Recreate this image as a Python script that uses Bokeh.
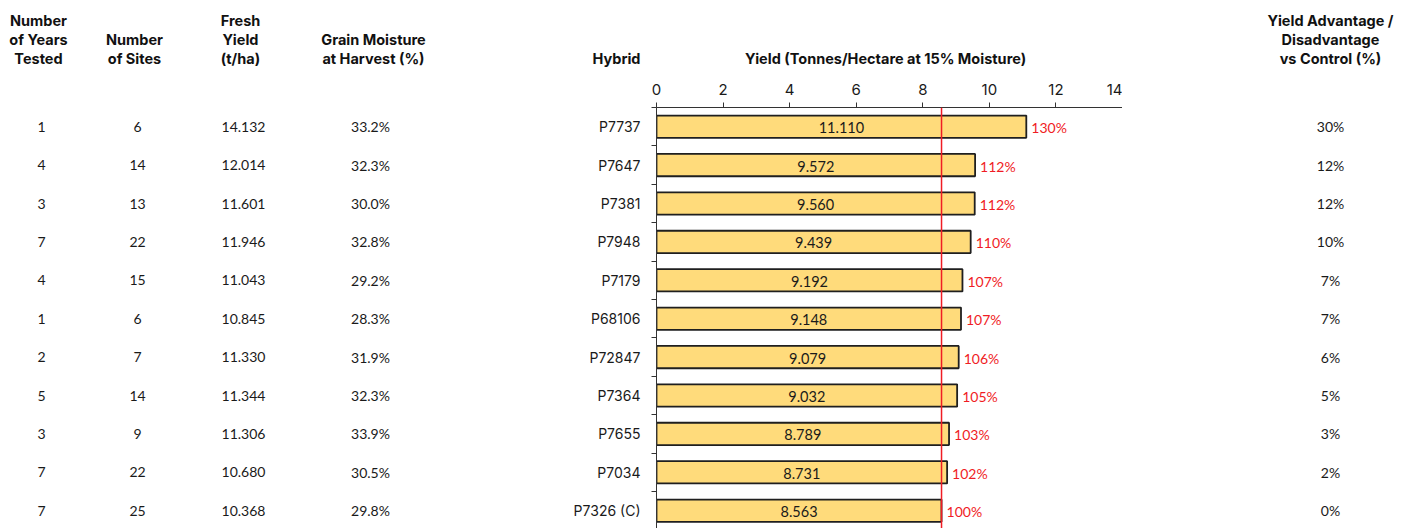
from bokeh.plotting import figure
from bokeh.models import ColumnDataSource, Range1d, FixedTicker, Span
from bokeh.layouts import column, row
from bokeh.core.properties import value
from bokeh.embed import file_html
from bokeh.resources import INLINE

hybrids = ["P7737", "P7647", "P7381", "P7948", "P7179", "P68106", "P72847",
           "P7364", "P7655", "P7034", "P7326 (C)"]
yield_t = [11.110, 9.572, 9.560, 9.439, 9.192, 9.148, 9.079, 9.032, 8.789, 8.731, 8.563]
pct_of_control = ["130%", "112%", "112%", "110%", "107%", "107%", "106%", "105%", "103%", "102%", "100%"]
years = ["1", "4", "3", "7", "4", "1", "2", "5", "3", "7", "7"]
sites = ["6", "14", "13", "22", "15", "6", "7", "14", "9", "22", "25"]
fresh_yield = ["14.132", "12.014", "11.601", "11.946", "11.043", "10.845", "11.330",
               "11.344", "11.306", "10.680", "10.368"]
moisture = ["33.2%", "32.3%", "30.0%", "32.8%", "29.2%", "28.3%", "31.9%", "32.3%",
            "33.9%", "30.5%", "29.8%"]
advantage = ["30%", "12%", "12%", "10%", "7%", "7%", "6%", "5%", "3%", "2%", "0%"]
control_value = 8.563
x_ticks = [0, 2, 4, 6, 8, 10, 12, 14]

# header texts (lines) and their column centres
header_lines = [
    (["Number", "of Years", "Tested"], 38),
    (["Number", "of Sites"], 134),
    (["Fresh", "Yield", "(t/ha)"], 240),
    (["Grain Moisture", "at Harvest (%)"], 373),
    (["Hybrid"], 616),
    (["Yield (Tonnes/Hectare at 15% Moisture)"], 885),
    (["Yield Advantage /", "Disadvantage", "vs Control (%)"], 1330),
]

BODY_FONT = value("Lato")
HEAD_FONT = value("Inter")
TXT = "#1a1a1a"
RED = "#f01c24"
AX = "#333333"

n = len(hybrids)
rows = list(range(n))
src = ColumnDataSource(dict(
    y=rows, val=yield_t, half=[v / 2 for v in yield_t],
    val_lbl=["%.3f" % v for v in yield_t], pct=pct_of_control,
    years=years, sites=sites, fresh=fresh_yield, moist=moisture, adv=advantage,
))

TOTAL_W = 1400
HEAD_H = 68
BODY_H = 460
TOP_B = 39          # frame top at 68 + 39 = 107
ROW_PX = 38.4
y_top = -0.5
y_bottom = y_top + (BODY_H - TOP_B) / ROW_PX


def blank(width, height, xr, yr, top=0):
    f = figure(width=width, height=height, output_backend="svg", toolbar_location=None,
               x_range=xr, y_range=yr, x_axis_location=None, y_axis_location=None,
               min_border_left=0, min_border_right=0, min_border_top=top,
               min_border_bottom=0)
    f.outline_line_color = None
    f.xgrid.visible = False
    f.ygrid.visible = False
    f.border_fill_color = "white"
    f.background_fill_color = "white"
    return f


# ---- header strip ----
hx, hy, ht = [], [], []
line_pos = [57.5, 38.5, 19.5]
for lines, cx in header_lines:
    ys = line_pos[:len(lines)][::-1]
    for t, yy in zip(lines, ys):
        hx.append(cx)
        hy.append(yy)
        ht.append(t)
head = blank(TOTAL_W, HEAD_H, Range1d(0, TOTAL_W), Range1d(HEAD_H, 0))
head.text(x=hx, y=hy, text=ht, text_align="center", text_baseline="middle",
          text_font=HEAD_FONT, text_font_style="bold", text_font_size="14.5px",
          text_color="#111111")

# ---- left table ----
LEFT_W = 540
left = blank(LEFT_W, BODY_H, Range1d(0, LEFT_W), Range1d(y_bottom, y_top), top=TOP_B)
for field, cx in [("years", 41), ("sites", 137), ("fresh", 243), ("moist", 370)]:
    left.text(x=cx, y="y", text=field, source=src, text_align="center",
              text_baseline="middle", text_font=BODY_FONT, text_font_size="14px",
              text_color=TXT)

# ---- chart ----
FRAME_L, FRAME_R = 656, 1122
p = figure(width=FRAME_R - LEFT_W, height=BODY_H, output_backend="svg", toolbar_location=None,
           x_range=Range1d(0, 14), y_range=Range1d(y_bottom, y_top),
           x_axis_location="above", min_border_left=FRAME_L - LEFT_W, min_border_right=0,
           min_border_top=TOP_B, min_border_bottom=0)
p.outline_line_color = None
p.xgrid.visible = False
p.ygrid.visible = False
p.border_fill_color = "white"

p.hbar(y="y", right="val", left=0, height=0.58, source=src,
       fill_color="#FFDB7B", line_color="#1f1f1f", line_width=1.8)
p.add_layout(Span(location=control_value, dimension="height", line_color=RED,
                  line_width=1.5, level="overlay"))
p.add_layout(Span(location=14, dimension="height", line_color=AX, line_width=1))

xa = p.xaxis[0]
xa.ticker = FixedTicker(ticks=x_ticks)
xa.axis_line_color = AX
xa.major_tick_line_color = AX
xa.major_tick_out = 5
xa.major_tick_in = 0
xa.minor_tick_line_color = None
xa.major_label_text_font = "Inter"
xa.major_label_text_font_size = "15px"
xa.major_label_text_color = TXT
xa.major_label_standoff = 8

ya = p.yaxis[0]
ya.ticker = FixedTicker(ticks=rows, minor_ticks=[i - 0.5 for i in range(n + 1)])
ya.major_label_overrides = {i: h for i, h in enumerate(hybrids)}
ya.axis_line_color = AX
ya.major_tick_line_color = None
ya.minor_tick_line_color = AX
ya.minor_tick_out = 5
ya.minor_tick_in = 0
ya.major_label_text_font = "Inter"
ya.major_label_text_font_size = "14px"
ya.major_label_text_color = TXT
ya.major_label_standoff = 10

p.text(x="half", y="y", text="val_lbl", source=src, text_align="center",
       text_baseline="middle", y_offset=1, text_font=BODY_FONT, text_font_size="14.5px",
       text_color=TXT)
p.text(x="val", y="y", text="pct", source=src, text_align="left",
       text_baseline="middle", x_offset=5, y_offset=1, text_font=BODY_FONT,
       text_font_size="14px", text_color=RED)

# ---- right column ----
right = blank(TOTAL_W - FRAME_R, BODY_H, Range1d(FRAME_R, TOTAL_W), Range1d(y_bottom, y_top),
              top=TOP_B)
right.text(x=1330, y="y", text="adv", source=src, text_align="center",
           text_baseline="middle", text_font=BODY_FONT, text_font_size="14px", text_color=TXT)

layout = column(head, row(left, p, right))
open("out.html", "w").write(file_html(layout, INLINE))
